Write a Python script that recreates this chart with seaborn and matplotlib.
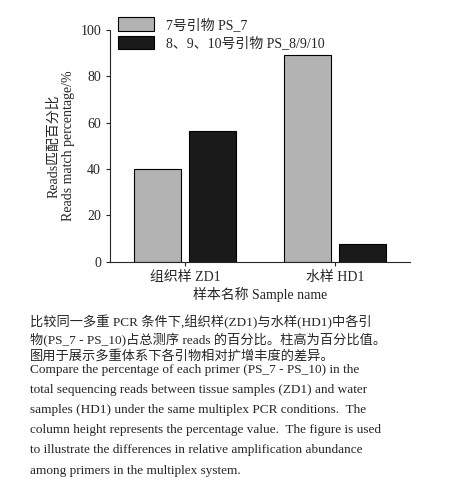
import matplotlib
matplotlib.use("Agg")
import matplotlib.pyplot as plt
import seaborn as sns
import pandas as pd

samples = ["组织样 ZD1", "水样 HD1"]
primers = ["7号引物 PS_7", "8、9、10号引物 PS_8/9/10"]
values_ps7 = [40, 89]
values_ps8 = [56.5, 7.5]
yticks = [0, 20, 40, 60, 80, 100]

df = pd.DataFrame({
    "sample": samples * 2,
    "primer": [primers[0]] * 2 + [primers[1]] * 2,
    "value": values_ps7 + values_ps8,
})

sns.set_style("ticks")
plt.rcParams['font.family'] = ['Liberation Serif', 'Noto Sans CJK SC', 'DejaVu Sans']
fig = plt.figure(figsize=(4.51, 4.83), dpi=100)
ax = fig.add_axes([0.244, 0.458, 0.665, 0.48])
sns.barplot(data=df, x="sample", y="value", hue="primer",
            palette=["#b3b3b3", "#1a1a1a"], edgecolor="black", linewidth=0.8,
            width=0.74, gap=0.16, ax=ax)
ax.set_ylim(0, 100)
ax.set_yticks(yticks)
ax.set_xlim(-0.5, 1.5)
ax.set_xlabel("样本名称 Sample name", fontsize=10, labelpad=2)
ax.set_ylabel("Reads匹配百分比\nReads match percentage/%", fontsize=10, linespacing=1.1)
ax.tick_params(labelsize=10, length=3)
sns.despine(ax=ax)
ax.legend(loc="upper left", bbox_to_anchor=(0.0, 1.09), frameon=False, fontsize=10,
          handlelength=2.6, handleheight=1.1, borderaxespad=0.2, labelspacing=0.3)

zh = ["比较同一多重 PCR 条件下,组织样(ZD1)与水样(HD1)中各引",
      "物(PS_7 - PS_10)占总测序 reads 的百分比。柱高为百分比值。",
      "图用于展示多重体系下各引物相对扩增丰度的差异。"]
en = ["Compare the percentage of each primer (PS_7 - PS_10) in the",
      "total sequencing reads between tissue samples (ZD1) and water",
      "samples (HD1) under the same multiplex PCR conditions.  The",
      "column height represents the percentage value.  The figure is used",
      "to illustrate the differences in relative amplification abundance",
      "among primers in the multiplex system."]
y = 322
for line in zh:
    fig.text(30/451, 1 - y/483, line, fontsize=9.5, va="center", ha="left")
    y += 17
y = 370
for line in en:
    fig.text(30/451, 1 - y/483, line, fontsize=9.5, va="center", ha="left")
    y += 20.1
fig.savefig("out.png", dpi=100)
